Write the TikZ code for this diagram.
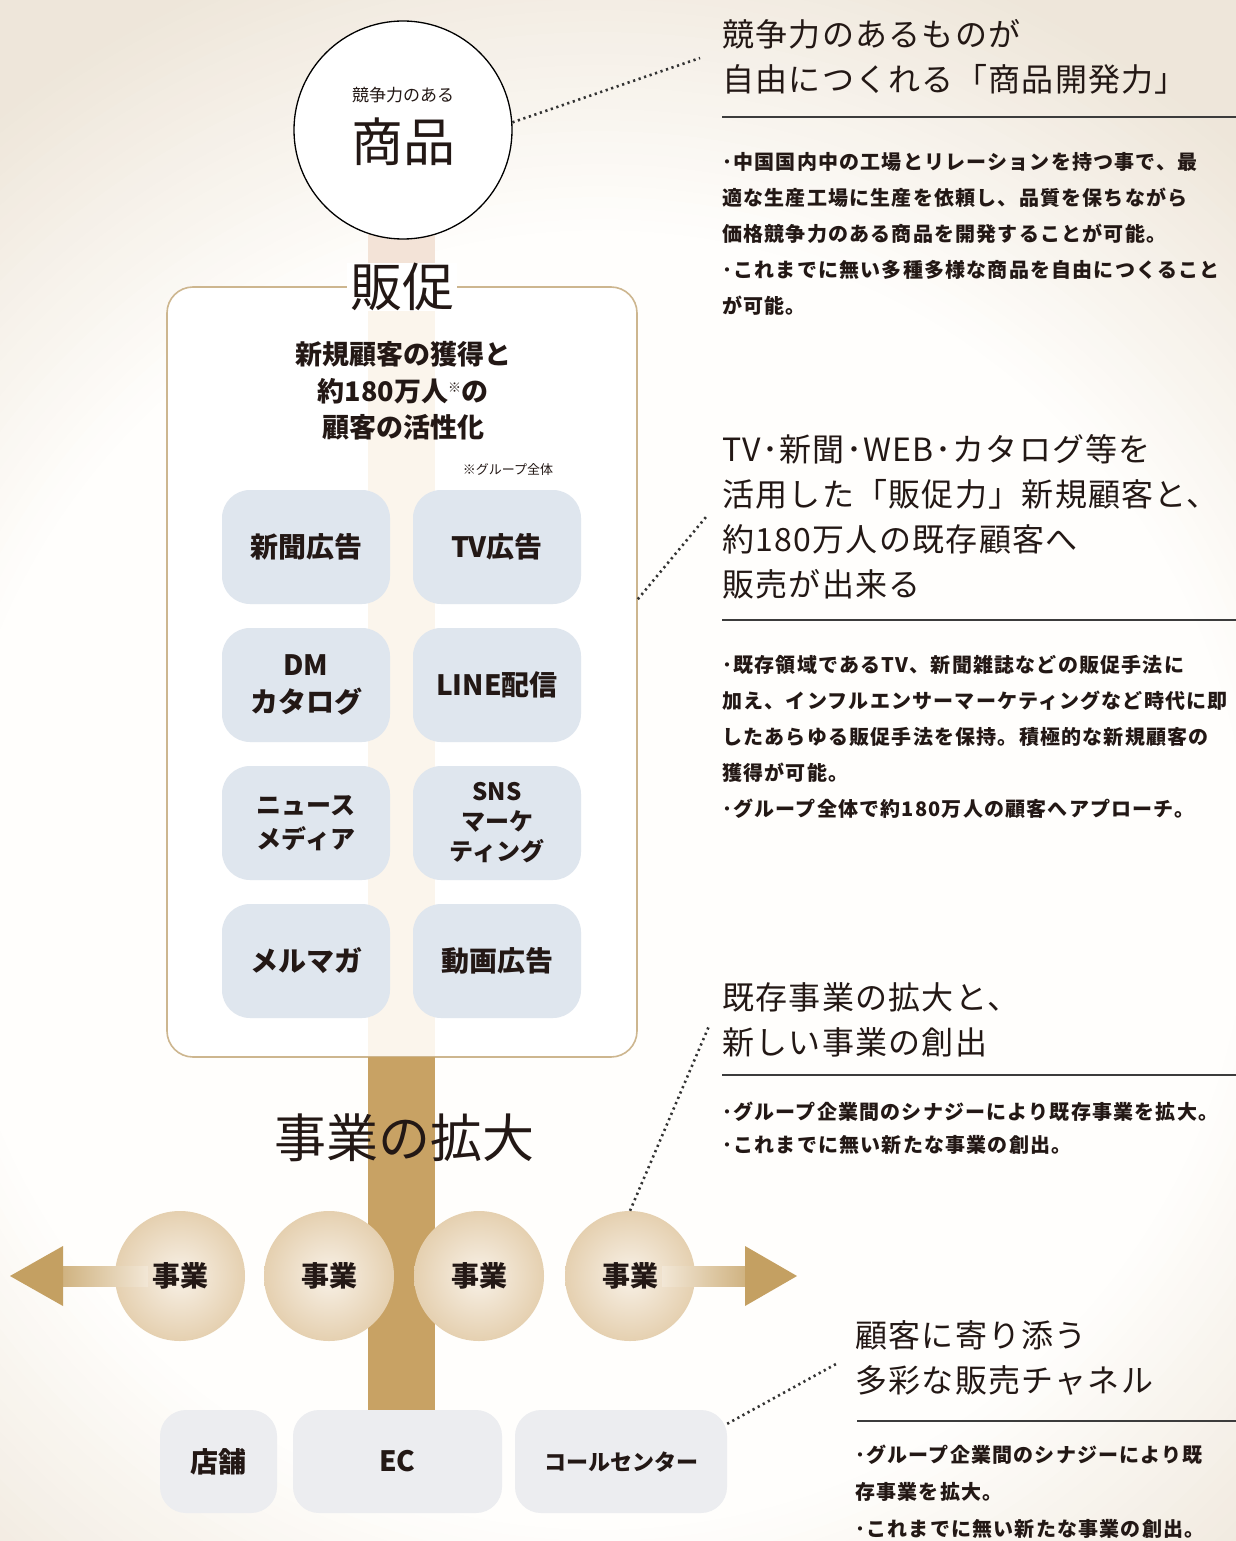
\documentclass[tikz,border=0pt]{standalone}
\usepackage{fontspec}
\setmainfont{Noto Sans CJK JP}
\newfontfamily\jph[LetterSpace=4]{Noto Sans CJK JP}
\newfontfamily\jpb[LetterSpace=6]{Noto Sans CJK JP}
\usetikzlibrary{calc}
\definecolor{txt}{HTML}{231815}
\definecolor{dotgray}{HTML}{333333}
\definecolor{rulegray}{HTML}{3C3C3C}
\definecolor{gridfill}{HTML}{DFE6EE}
\definecolor{chanfill}{HTML}{ECEDF0}
\definecolor{bizin}{HTML}{F8F1E7}
\definecolor{bizout}{HTML}{E5D0B0}
\definecolor{goldbar}{HTML}{C8A264}
\definecolor{arrowgold}{HTML}{C4A062}
\definecolor{pinkbar}{HTML}{F3E3D7}
\definecolor{colfaint}{HTML}{FBF5EC}
\definecolor{boxline}{HTML}{CDB68F}
\definecolor{bgin}{HTML}{FFFEFC}
\definecolor{bgout}{HTML}{EEE6DA}
\begin{document}
\begin{tikzpicture}[x=1pt,y=-1pt,
  dotline/.style={draw=dotgray,line width=2.6pt,dash pattern=on 2.2pt off 3.6pt},
  gridbox/.style={rectangle,rounded corners=28pt,fill=gridfill,minimum width=168pt,minimum height=114pt,inner sep=0pt,align=center,text=txt,font=\fontsize{28}{37}\selectfont\bfseries},
  bizcircle/.style={circle,minimum size=130pt,inner sep=0pt,inner color=bizin,outer color=bizout,text=txt,font=\fontsize{28}{30}\selectfont\bfseries},
  chanbox/.style={rectangle,rounded corners=26pt,fill=chanfill,minimum height=103pt,inner sep=0pt,text=txt,font=\fontsize{28}{30}\selectfont\bfseries},
  hrule/.style={draw=rulegray,line width=2pt},
  heading/.style={anchor=north west,inner sep=0pt,align=left,text=txt,font=\jph\fontsize{32}{45}\selectfont},
  bodytext/.style={anchor=north west,inner sep=0pt,align=left,text=txt,font=\jpb\fontsize{20}{36}\selectfont\bfseries},
  bigtitle/.style={inner sep=0pt,text=txt,font=\fontsize{52}{56}\selectfont}
]
\useasboundingbox (0,0) rectangle (1236,1541);
% background
\begin{scope}
\clip (0,0) rectangle (1236,1541);
\fill[bgout] (0,0) rectangle (1236,1541);
\foreach \k in {0,...,30} {
  \pgfmathtruncatemacro\pc{\k*100/30}
  \pgfmathsetmacro\rr{980-11*\k}
  \fill[bgin!\pc!bgout] (600,880) circle (\rr pt);
}
\end{scope}
% upper pink bar
\fill[pinkbar] (368,200) rectangle (435,288);
% product circle
\node[circle,draw=black,line width=1.3pt,fill=white,minimum size=218pt,inner sep=0pt] (shohin) at (403,130) {};
\node[inner sep=0pt,text=txt,font=\fontsize{17}{20}\selectfont] (shohinsub) at (403,95) {競争力のある};
\node[inner sep=0pt,text=txt,font=\fontsize{52}{56}\selectfont] (shohinmain) at (403,142) {商品};
% promotion box
\node[draw=boxline,line width=1.6pt,fill=white,rounded corners=26pt,minimum width=470pt,minimum height=770pt,inner sep=0pt] (hbox) at (402,672) {};
\fill[colfaint] (368,289) rectangle (435,1056);
\node[bigtitle,fill=white,inner xsep=3pt] (hansoku) at (402,287) {販促};
\node[inner sep=0pt,align=center,text=txt,font=\fontsize{27}{36.5}\selectfont\bfseries] (hsub) at (403,391)
  {新規顧客の獲得と\\約180万人\raisebox{9pt}{\fontsize{13}{13}\selectfont ※}の\\顧客の活性化};
\node[inner sep=0pt,text=txt,font=\fontsize{13}{15}\selectfont] (note) at (508,470) {※グループ全体};
% grid
\node[gridbox] (g1) at (306,547) {新聞広告};
\node[gridbox] (g2) at (497,547) {TV広告};
\node[gridbox] (g3) at (306,685) {DM\\カタログ};
\node[gridbox] (g4) at (497,685) {LINE配信};
\node[gridbox,font=\fontsize{25}{34}\selectfont\bfseries] (g5) at (306,823) {ニュース\\メディア};
\node[gridbox,font=\fontsize{24}{30}\selectfont\bfseries] (g6) at (497,823) {SNS\\マーケ\\ティング};
\node[gridbox] (g7) at (306,961) {メルマガ};
\node[gridbox] (g8) at (497,961) {動画広告};
% gold trunk
\fill[goldbar] (368,1057) rectangle (435,1412);
\node[bigtitle] (kakudai) at (404,1138) {事業の拡大};
% business circles
\node[bizcircle] (biz1) at (180,1276) {事業};
\node[bizcircle] (biz2) at (329,1276) {事業};
\node[bizcircle] (biz3) at (479,1276) {事業};
\node[bizcircle] (biz4) at (630,1276) {事業};
% arrows
\coordinate (tipL) at (10,1276);
\coordinate (tipR) at (797,1276);
\shade[left color=arrowgold!80!white, right color=bizin!70!bizout] (63,1266) rectangle (148,1286);
\shade[left color=bizin!70!bizout, right color=arrowgold!80!white] (662,1266) rectangle (745,1286);
\fill[arrowgold] (tipL) -- (63,1246) -- (63,1306) -- cycle;
\fill[arrowgold] (tipR) -- (745,1246) -- (745,1306) -- cycle;
% channels
\node[chanbox,minimum width=117pt] (tenpo) at (218.5,1461.5) {店舗};
\node[chanbox,minimum width=209pt] (ec) at (397.5,1461.5) {EC};
\node[chanbox,minimum width=212pt,font=\fontsize{22}{26}\selectfont\bfseries] (call) at (621,1461.5) {コールセンター};
% right column texts
\node[heading] (h1) at (722,19) {競争力のあるものが\\自由につくれる「商品開発力」};
\draw[hrule] (722,117) -- (1236,117);
\node[bodytext] (b1) at (722,152) {･中国国内中の工場とリレーションを持つ事で、最\\適な生産工場に生産を依頼し、品質を保ちながら\\価格競争力のある商品を開発することが可能。\\･これまでに無い多種多様な商品を自由につくること\\が可能。};
\node[heading] (h2) at (722,434) {TV･新聞･WEB･カタログ等を\\活用した「販促力」新規顧客と、\\約180万人の既存顧客へ\\販売が出来る};
\draw[hrule] (722,620) -- (1236,620);
\node[bodytext] (b2) at (722,655) {･既存領域であるTV、新聞雑誌などの販促手法に\\加え、インフルエンサーマーケティングなど時代に即\\したあらゆる販促手法を保持。積極的な新規顧客の\\獲得が可能。\\･グループ全体で約180万人の顧客へアプローチ。};
\node[heading] (h3) at (722,982) {既存事業の拡大と、\\新しい事業の創出};
\draw[hrule] (722,1075) -- (1236,1075);
\node[bodytext,font=\jpb\fontsize{20}{33}\selectfont\bfseries] (b3) at (722,1102) {･グループ企業間のシナジーにより既存事業を拡大。\\･これまでに無い新たな事業の創出。};
\node[heading] (h4) at (855,1320) {顧客に寄り添う\\多彩な販売チャネル};
\draw[hrule] (857,1421) -- (1236,1421);
\node[bodytext,font=\jpb\fontsize{20}{37}\selectfont\bfseries] (b4) at (855,1445) {･グループ企業間のシナジーにより既\\存事業を拡大。\\･これまでに無い新たな事業の創出。};
% dotted leaders
\coordinate (d1) at (700,58);
\coordinate (d2) at (706,517);
\coordinate (d3) at (709,1026);
\coordinate (d4) at (836,1364);
\draw[dotline] (shohin.4) -- (d1);
\draw[dotline] ([yshift=-313pt]hbox.north east) -- (d2);
\draw[dotline] (biz4.north) -- (d3);
\draw[dotline] ([yshift=-14pt]call.north east) -- (d4);
\end{tikzpicture}
\end{document}
